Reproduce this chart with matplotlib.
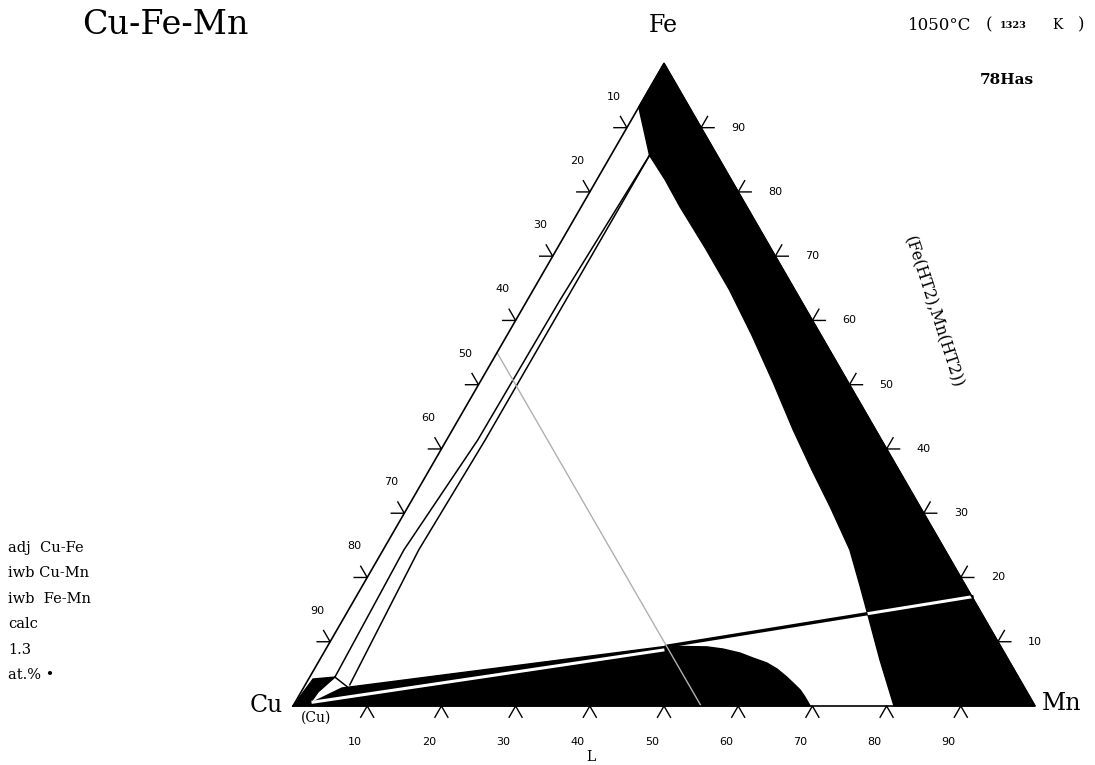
import numpy as np
import matplotlib
matplotlib.use('Agg')
import matplotlib.pyplot as plt
from matplotlib.patches import Polygon

# compositions in at.% (Fe, Mn); Cu is the rest
band_fe = [100, 93.2, 85.7, 81.9, 77.7, 71.3, 64.7, 57.7, 50.4, 43.0, 36.7,
           31.0, 24.3, 18.8, 13.9, 7.2, 0.0, 0.0]
band_mn = [0.0, 0.0, 5.2, 9.2, 13.3, 19.9, 26.5, 33.0, 39.5, 45.9, 51.6,
           56.9, 62.9, 67.0, 70.6, 75.5, 81.0, 100]

liq_fe = [2.8, 9.3, 9.2, 8.87, 8.25, 7.47, 6.7, 5.76, 4.5, 3.58, 2.5, 1.4, 0.0, 0.0]
liq_mn = [5.2, 45.7, 51.2, 53.5, 56.1, 58.25, 60.5, 62.35, 64.3, 65.6, 67.1, 68.3, 69.7, 1.6]

wl_fe = [0.6, 8.7]
wl_mn = [2.4, 45.5]

tie_fe = [9.3, 17.0]
tie_mn = [45.7, 83.0]

cu_fe = [0.0, 4.2, 4.5, 2.2, 0.5, 0.0]
cu_mn = [0.0, 0.6, 3.4, 2.3, 2.1, 1.6]

linex_fe = [85.7, 63.2, 41.4, 24.3, 3.3]
linex_mn = [5.2, 5.2, 5.2, 4.8, 6.0]
liney_fe = [85.7, 63.2, 41.4, 24.3, 4.5]
liney_mn = [5.2, 4.4, 4.2, 2.8, 3.4]

small_tie_fe = [4.5, 3.0]
small_tie_mn = [3.4, 5.8]

iso_cu = 45
ticks = [10, 20, 30, 40, 50, 60, 70, 80, 90]

notes = ['adj  Cu-Fe', 'iwb Cu-Mn', 'iwb  Fe-Mn', 'calc', '1.3', 'at.% \u2022']

S3 = np.sqrt(3) / 2


def tern(fe, mn):
    fe = np.asarray(fe, float) / 100
    mn = np.asarray(mn, float) / 100
    return mn + fe / 2, fe * S3


W, H = 1095, 765
fig = plt.figure(figsize=(W / 100, H / 100), dpi=100)
ax = fig.add_axes([0, 0, 1, 1])
ax.set_xlim(-293 / 742, 802 / 742)
ax.set_ylim(-59 / 742, 706 / 742)
ax.axis('off')

# black regions
bx, by = tern(band_fe, band_mn)
band = Polygon(np.c_[bx, by], closed=True, fc='black', ec='black', lw=1)
ax.add_patch(band)

lx, ly = tern(liq_fe, liq_mn)
ax.add_patch(Polygon(np.c_[lx, ly], closed=True, fc='black', ec='black', lw=1))

cx, cy = tern(cu_fe, cu_mn)
ax.add_patch(Polygon(np.c_[cx, cy], closed=True, fc='black', ec='black', lw=1))

# white line inside the liquid region
x, y = tern(wl_fe, wl_mn)
ax.plot(x, y, color='white', lw=2.2)

# tie line, white where it crosses the band
x, y = tern(tie_fe, tie_mn)
ax.plot(x, y, color='black', lw=2.4)
wl, = ax.plot(x, y, color='white', lw=2.2)
wl.set_clip_path(band)

# phase boundaries near Cu-Fe edge
for fe, mn in [(linex_fe, linex_mn), (liney_fe, liney_mn), (small_tie_fe, small_tie_mn)]:
    x, y = tern(fe, mn)
    ax.plot(x, y, color='black', lw=1.1)

# Cu isopleth
x, y = tern([100 - iso_cu, 0], [0, 100 - iso_cu])
ax.plot(x, y, color='#b0b0b0', lw=1)

# triangle
x, y = tern([0, 0, 100, 0], [0, 100, 0, 0])
ax.plot(x, y, color='black', lw=1.2)

# ticks
L = 13 / 742
c60, s60 = 0.5, S3
tk = dict(color='black', lw=1.0)
lab = dict(fontsize=8, family='DejaVu Sans', ha='center', va='center')
for t in ticks:
    # bottom: Mn %
    px, py = tern(0, t)
    ax.plot([px - L * c60, px, px + L * c60], [py - L * s60, py, py - L * s60], **tk)
    ax.text(px - 12 / 742, py - 36 / 742, str(t), **lab)
    # left: Cu %
    px, py = tern(100 - t, 0)
    ax.plot([px - L, px, px - L * c60], [py, py, py + L * s60], **tk)
    ax.text(px - 13 / 742, py + 31 / 742, str(t), **lab)
    # right: Fe %
    px, py = tern(t, 100 - t)
    ax.plot([px + L, px, px + L * c60], [py, py, py + L * s60], **tk)
    ax.text(px + 37 / 742, py, str(t), **lab)


def ftext(px, py, s, **kw):
    kw.setdefault('ha', 'center')
    kw.setdefault('va', 'center')
    kw.setdefault('family', 'DejaVu Serif')
    fig.text(px / W, 1 - py / H, s, **kw)


ftext(165, 25, 'Cu-Fe-Mn', fontsize=24)
ftext(663, 25, 'Fe', fontsize=17)
ftext(266, 705, 'Cu', fontsize=17)
ftext(316, 718, '(Cu)', fontsize=10)
ftext(1062, 703, 'Mn', fontsize=17)
ftext(591, 757, 'L', fontsize=10)
ftext(940, 25, '1050\u00b0C', fontsize=12)
ftext(989, 25, '(', fontsize=12)
ftext(1013, 26, '1323', fontsize=7, weight='bold')
ftext(1057, 25, 'K', fontsize=10)
ftext(1081, 25, ')', fontsize=12)
ftext(1007, 80, '78Has', fontsize=11, weight='bold')
ftext(933, 312, '(Fe(HT2),Mn(HT2))', fontsize=11.5, rotation=-72, rotation_mode='anchor')

for i, s in enumerate(notes):
    ftext(8, 548 + i * 25.4, s, fontsize=10.5, ha='left')

fig.savefig('out.png', dpi=100)
